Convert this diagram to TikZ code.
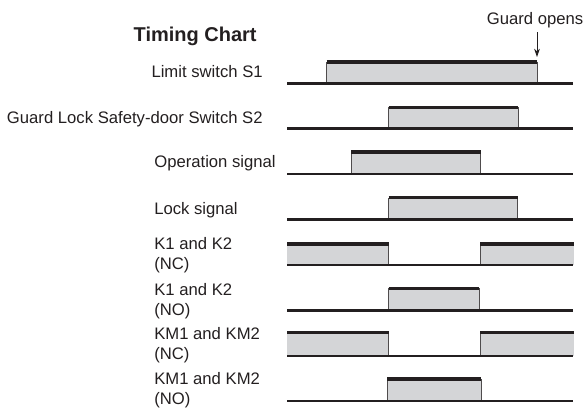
\documentclass[tikz,border=0pt]{standalone}
\usepackage{fontspec}
\setmainfont{Liberation Sans}
\usepackage{tikz}
\usetikzlibrary{arrows.meta}

\definecolor{pulsegray}{RGB}{212,213,215}
\definecolor{inkgray}{RGB}{35,31,32}

\begin{document}
\begin{tikzpicture}[x=0.6pt, y=-0.6pt,
        every node/.style={font=\fontsize{10}{12}\selectfont, text=inkgray, inner sep=0pt},
        label/.style={anchor=west, align=left},
        pulsefill/.style={fill=pulsegray},
        pulseside/.style={draw=inkgray!80, line width=0.6pt},
        pulsetop/.style={draw=inkgray, line width=2pt},
        baseline/.style={draw=inkgray, line width=1.3pt}]
    \useasboundingbox (0,0) rectangle (588,416);

    % labels
    \node[anchor=east, font=\fontsize{12}{14}\bfseries] (title) at (257, 36.7) {Timing Chart};
    \node[anchor=east] (s1) at (263, 71.7) {Limit switch S1};
    \node[anchor=east] (s2) at (263, 119) {Guard Lock Safety-door Switch S2};
    \node[label] (op) at (154, 163) {Operation signal};
    \node[label] (lock) at (154, 210) {Lock signal};
    \node[label] (knc) at (154, 255) {K1 and K2\\(NC)};
    \node[label] (kno) at (154, 301.5) {K1 and K2\\(NO)};
    \node[label] (kmnc) at (154, 345.5) {KM1 and KM2\\(NC)};
    \node[label] (kmno) at (154, 390.5) {KM1 and KM2\\(NO)};
    \node (guard) at (535, 20) {Guard opens};

    % limit switch S1
    \fill[pulsefill] (326.7, 83.5) rectangle (537, 62);
    \draw[pulseside] (326.7, 83.5) -- (326.7, 62);
    \draw[pulseside] (537, 62) -- (537, 83.5);
    \draw[pulsetop] (326.7, 62) -- (537, 62);
    \draw[baseline] (287, 83.5) -- (573, 83.5);

    % guard lock switch S2
    \fill[pulsefill] (388.7, 128.5) rectangle (518.3, 107.3);
    \draw[pulseside] (388.7, 128.5) -- (388.7, 107.3);
    \draw[pulseside] (518.3, 107.3) -- (518.3, 128.5);
    \draw[pulsetop] (388.7, 107.3) -- (518.3, 107.3);
    \draw[baseline] (287, 128.5) -- (573, 128.5);

    % operation signal
    \fill[pulsefill] (351, 174) rectangle (480.7, 152);
    \draw[pulseside] (351, 174) -- (351, 152);
    \draw[pulseside] (480.7, 152) -- (480.7, 174);
    \draw[pulsetop] (351, 152) -- (480.7, 152);
    \draw[baseline] (287, 174) -- (573, 174);

    % lock signal
    \fill[pulsefill] (388.7, 219.5) rectangle (517.7, 197.7);
    \draw[pulseside] (388.7, 219.5) -- (388.7, 197.7);
    \draw[pulseside] (517.7, 197.7) -- (517.7, 219.5);
    \draw[pulsetop] (388.7, 197.7) -- (517.7, 197.7);
    \draw[baseline] (287, 219.5) -- (573, 219.5);

    % K1 and K2 (NC)
    \fill[pulsefill] (287, 265) rectangle (388.7, 244);
    \fill[pulsefill] (480, 265) rectangle (574, 244);
    \draw[pulseside] (388.7, 244) -- (388.7, 265);
    \draw[pulseside] (480, 265) -- (480, 244);
    \draw[pulsetop] (287, 244) -- (388.7, 244);
    \draw[pulsetop] (480, 244) -- (574, 244);
    \draw[baseline] (287, 265) -- (573, 265);

    % K1 and K2 (NO)
    \fill[pulsefill] (388.7, 310.5) rectangle (479, 288.3);
    \draw[pulseside] (388.7, 310.5) -- (388.7, 288.3);
    \draw[pulseside] (479, 288.3) -- (479, 310.5);
    \draw[pulsetop] (388.7, 288.3) -- (479, 288.3);
    \draw[baseline] (287, 310.5) -- (573, 310.5);

    % KM1 and KM2 (NC)
    \fill[pulsefill] (287, 356) rectangle (388.7, 332.7);
    \fill[pulsefill] (480, 356) rectangle (574, 332.7);
    \draw[pulseside] (388.7, 332.7) -- (388.7, 356);
    \draw[pulseside] (480, 356) -- (480, 332.7);
    \draw[pulsetop] (287, 332.7) -- (388.7, 332.7);
    \draw[pulsetop] (480, 332.7) -- (574, 332.7);
    \draw[baseline] (287, 356) -- (573, 356);

    % KM1 and KM2 (NO)
    \fill[pulsefill] (387, 401) rectangle (481.3, 379);
    \draw[pulseside] (387, 401) -- (387, 379);
    \draw[pulseside] (481.3, 379) -- (481.3, 401);
    \draw[pulsetop] (387, 379) -- (481.3, 379);
    \draw[baseline] (287, 401) -- (573, 401);

    % guard opens marker
    \coordinate (open) at (537, 57);
    \draw[inkgray, line width=0.6pt, -{Stealth[length=5pt, width=3.5pt]}] (guard.south -| open) ++(0,4) -- (open);
\end{tikzpicture}
\end{document}
